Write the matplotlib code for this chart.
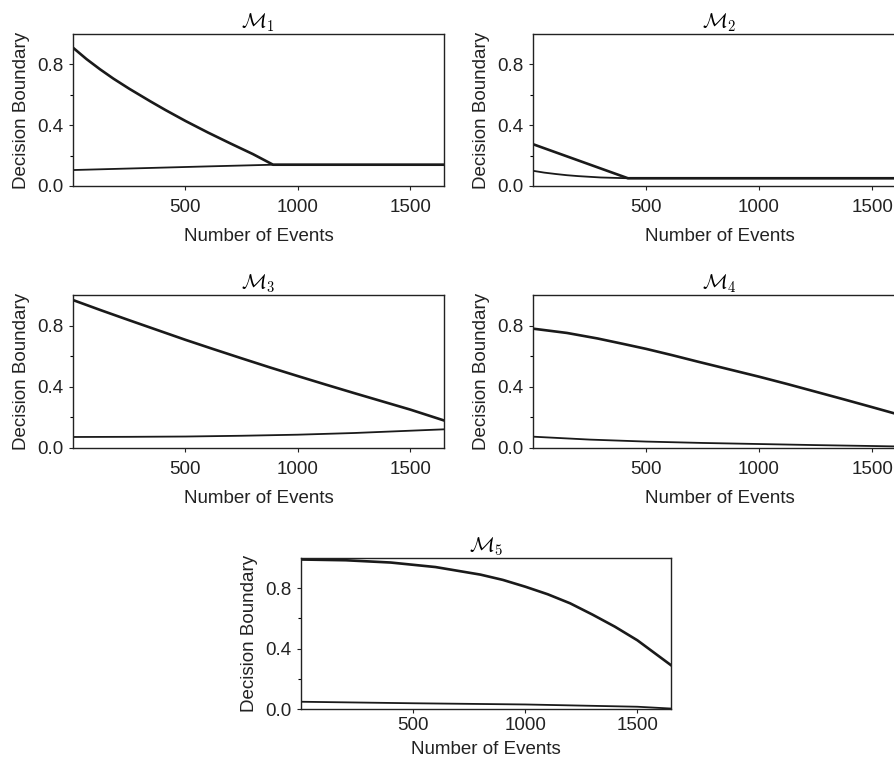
"""
Decision boundary vs. number of events for five models (M1..M5).
Each panel: upper boundary (thick) and lower boundary (thin).
"""

import matplotlib
matplotlib.use('Agg')
import matplotlib.pyplot as plt

# ==================== fonts ====================
plt.rcParams['font.family'] = ['Liberation Sans', 'DejaVu Sans']
plt.rcParams['mathtext.fontset'] = 'cm'

# ==================== data ====================
titles = [r'$\mathcal{M}_1$', r'$\mathcal{M}_2$', r'$\mathcal{M}_3$',
          r'$\mathcal{M}_4$', r'$\mathcal{M}_5$']

# M1
m1_upper_x = [0, 60, 120, 180, 250, 344, 411, 500, 600, 700, 800, 890, 1650]
m1_upper_y = [0.91, 0.835, 0.768, 0.706, 0.64, 0.557, 0.50, 0.428, 0.352, 0.28, 0.21,
              0.14, 0.14]
m1_lower_x = [0, 300, 600, 890, 1650]
m1_lower_y = [0.105, 0.117, 0.129, 0.14, 0.14]

# M2
m2_upper_x = [0, 420, 1650]
m2_upper_y = [0.275, 0.051, 0.051]
m2_lower_x = [0, 50, 100, 150, 200, 300, 420, 1650]
m2_lower_y = [0.10, 0.088, 0.079, 0.071, 0.065, 0.056, 0.051, 0.051]

# M3
m3_upper_x = [0, 125, 250, 375, 500, 625, 750, 875, 1000, 1125, 1250, 1375, 1500, 1650]
m3_upper_y = [0.967, 0.90, 0.835, 0.771, 0.707, 0.646, 0.586, 0.527, 0.47, 0.414, 0.359,
              0.305, 0.251, 0.18]
m3_lower_x = [0, 250, 500, 750, 1000, 1250, 1500, 1650]
m3_lower_y = [0.072, 0.073, 0.075, 0.08, 0.087, 0.098, 0.113, 0.122]

# M4
m4_upper_x = [0, 150, 285, 400, 500, 615, 730, 865, 1000, 1125, 1250, 1375, 1500, 1650]
m4_upper_y = [0.78, 0.752, 0.716, 0.68, 0.648, 0.607, 0.564, 0.515, 0.466, 0.418, 0.368,
              0.318, 0.267, 0.205]
m4_lower_x = [0, 250, 500, 750, 1000, 1250, 1500, 1650]
m4_lower_y = [0.074, 0.055, 0.042, 0.033, 0.026, 0.019, 0.013, 0.009]

# M5
m5_upper_x = [0, 200, 400, 600, 800, 900, 1000, 1100, 1200, 1300, 1400, 1500, 1600, 1650]
m5_upper_y = [0.99, 0.985, 0.97, 0.94, 0.89, 0.855, 0.81, 0.76, 0.70, 0.625, 0.545,
              0.455, 0.345, 0.29]
m5_lower_x = [0, 500, 1000, 1500, 1650]
m5_lower_y = [0.048, 0.038, 0.03, 0.015, 0.003]

uppers = [(m1_upper_x, m1_upper_y), (m2_upper_x, m2_upper_y), (m3_upper_x, m3_upper_y),
          (m4_upper_x, m4_upper_y), (m5_upper_x, m5_upper_y)]
lowers = [(m1_lower_x, m1_lower_y), (m2_lower_x, m2_lower_y), (m3_lower_x, m3_lower_y),
          (m4_lower_x, m4_lower_y), (m5_lower_x, m5_lower_y)]

# ==================== layout (pixel boxes: left, top, right, bottom) ====================
W, H = 894, 766
boxes = [
    (73, 34, 444, 186),
    (533, 34, 906, 186),   # right-hand panels run past the page edge
    (73, 295, 444, 448),
    (533, 295, 906, 448),
    (301, 558, 671, 709),
]
# the bottom panel sits tighter to its labels
tick_pads = [6, 6, 6, 6, 3]
label_pads = [9, 9, 9, 9, 5]

fig = plt.figure(figsize=(W / 100, H / 100), dpi=100)
line_color = '#1a1a1a'
text_color = '#222222'

for i in range(5):
    l, t, r, b = boxes[i]
    ax = fig.add_axes([l / W, 1 - b / H, (r - l) / W, (b - t) / H])

    ux, uy = uppers[i]
    lx, ly = lowers[i]
    ax.plot(ux, uy, color=line_color, lw=1.9, solid_joinstyle='round')
    ax.plot(lx, ly, color=line_color, lw=1.3, solid_joinstyle='round')

    ax.set_xlim(0, 1650)
    ax.set_ylim(0, 1.0)
    ax.set_xticks([500, 1000, 1500])
    ax.set_yticks([0.0, 0.4, 0.8])
    ax.set_yticks([0.2, 0.6], minor=True)
    ax.yaxis.set_major_formatter(plt.FormatStrFormatter('%.1f'))
    ax.tick_params(direction='out', length=3, width=0.8, colors=text_color,
                   labelsize=13.5)
    ax.tick_params(axis='x', pad=tick_pads[i])
    ax.tick_params(axis='y', pad=4)
    ax.tick_params(which='minor', direction='out', length=2, width=0.8)
    for s in ax.spines.values():
        s.set_linewidth(1.0)
        s.set_color(text_color)

    ax.set_title(titles[i], fontsize=15, pad=4)
    ax.set_xlabel('Number of Events', fontsize=13.5, labelpad=label_pads[i],
                  color=text_color)
    ax.set_ylabel('Decision Boundary', fontsize=13.5, labelpad=5, color=text_color)

plt.savefig('out.png', dpi=100)
